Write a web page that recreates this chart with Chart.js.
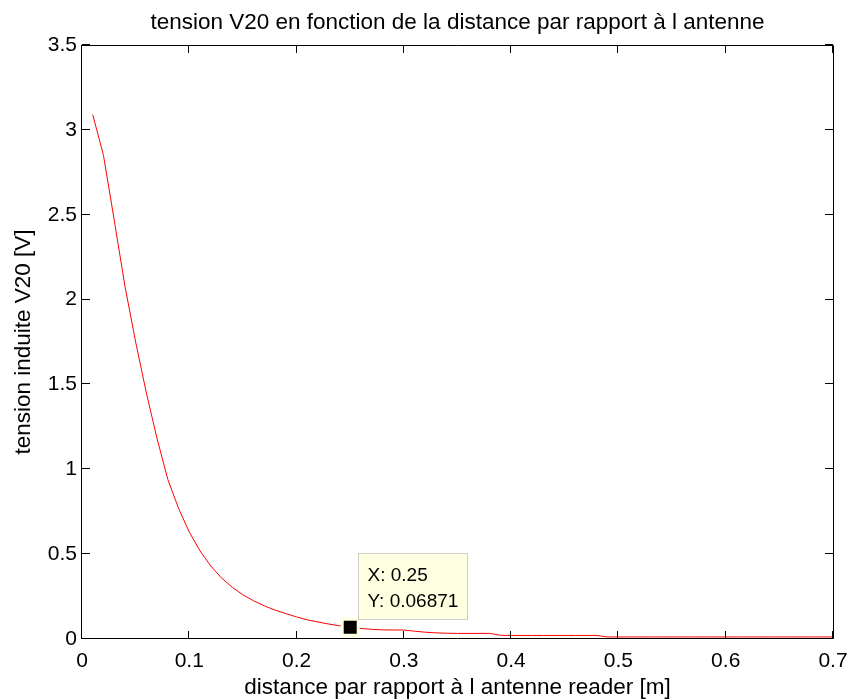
<!DOCTYPE html>
<html>
<head>
<meta charset="utf-8">
<title>tension V20</title>
<script src="https://cdn.jsdelivr.net/npm/chart.js@4.4.1/dist/chart.umd.min.js"></script>
<style>
  html, body { margin: 0; padding: 0; background: #fff; }
  #wrap { width: 848px; height: 699px; position: relative; }
</style>
</head>
<body>
<div id="wrap"><canvas id="chartV20"></canvas></div>
<script>
// distance [m]
const distances = [
  0.01, 0.02, 0.03, 0.04, 0.05, 0.06, 0.07, 0.08, 0.09, 0.10,
  0.11, 0.12, 0.13, 0.14, 0.15, 0.16, 0.17, 0.18, 0.19, 0.20,
  0.21, 0.22, 0.23, 0.24, 0.25, 0.26, 0.27, 0.28, 0.29, 0.30,
  0.31, 0.32, 0.33, 0.34, 0.35, 0.36, 0.37, 0.38, 0.39, 0.40,
  0.41, 0.42, 0.43, 0.44, 0.45, 0.46, 0.47, 0.48, 0.49, 0.50,
  0.51, 0.52, 0.53, 0.54, 0.55, 0.56, 0.57, 0.58, 0.59, 0.60,
  0.61, 0.62, 0.63, 0.64, 0.65, 0.66, 0.67, 0.68, 0.69, 0.70
];
// tension induite V20 [V]
const voltages = [
  3.09, 2.85, 2.47, 2.08, 1.75, 1.45, 1.18, 0.94, 0.77, 0.63,
  0.52, 0.43, 0.36, 0.305, 0.26, 0.225, 0.195, 0.17, 0.15, 0.13,
  0.113, 0.10, 0.088, 0.078, 0.06871, 0.062, 0.057, 0.054, 0.053, 0.053,
  0.046, 0.040, 0.036, 0.034, 0.033, 0.033, 0.033, 0.033, 0.022, 0.021,
  0.021, 0.021, 0.021, 0.021, 0.021, 0.021, 0.021, 0.021, 0.012, 0.012,
  0.012, 0.012, 0.012, 0.012, 0.012, 0.012, 0.012, 0.012, 0.012, 0.012,
  0.012, 0.012, 0.012, 0.012, 0.012, 0.012, 0.012, 0.012, 0.012, 0.012
];

const xTicks = [0, 0.1, 0.2, 0.3, 0.4, 0.5, 0.6, 0.7];
const yTicks = [0, 0.5, 1, 1.5, 2, 2.5, 3, 3.5];

// data tip (curseur matlab)
const tipX = 0.25;
const tipY = 0.06871;
const tipLines = ["X: 0.25", "Y: 0.06871"];

const FONT = "'Liberation Sans', Arial, Helvetica, sans-serif";
Chart.defaults.font.family = FONT;
Chart.defaults.color = "#000";

const el = (id) => document.getElementById(id);

// petits traits de graduation vers l'interieur, sur les 4 cotes + cadre
const boxTicks = {
  id: "boxTicks",
  afterDraw(chart) {
    const { ctx, chartArea: a, scales } = chart;
    const len = 8;
    ctx.save();
    ctx.strokeStyle = "#000";
    ctx.lineWidth = 1;
    ctx.beginPath();
    ctx.rect(Math.round(a.left) - 0.5, Math.round(a.top) + 0.5,
             Math.round(a.right) - Math.round(a.left) + 1, Math.round(a.bottom) - Math.round(a.top) - 1);
    xTicks.forEach((v) => {
      const x = Math.round(scales.x.getPixelForValue(v)) - 0.5;
      ctx.moveTo(x, a.bottom); ctx.lineTo(x, a.bottom - len);
      ctx.moveTo(x, a.top); ctx.lineTo(x, a.top + len);
    });
    yTicks.forEach((v) => {
      const y = Math.round(scales.y.getPixelForValue(v)) - 0.5;
      ctx.moveTo(a.left, y); ctx.lineTo(a.left + len, y);
      ctx.moveTo(a.right, y); ctx.lineTo(a.right - len, y);
    });
    ctx.stroke();
    ctx.restore();
  }
};

const dataTip = {
  id: "dataTip",
  afterDraw(chart) {
    const { ctx, scales } = chart;
    const px = scales.x.getPixelForValue(tipX);
    const py = scales.y.getPixelForValue(tipY);
    const left = Math.round(px + 8) + 0.5;
    const top = Math.round(py - 74) + 0.5;
    const w = 109, h = 66;
    ctx.save();
    ctx.fillStyle = "#ffffe1";
    ctx.strokeStyle = "#cfcfc4";
    ctx.lineWidth = 1;
    ctx.fillRect(left, top, w, h);
    ctx.strokeRect(left, top, w, h);
    ctx.fillStyle = "#000";
    ctx.font = "19px " + FONT;
    ctx.textBaseline = "alphabetic";
    ctx.fillText(tipLines[0], left + 9, top + 27);
    ctx.fillText(tipLines[1], left + 9, top + 53);
    ctx.restore();
  }
};

const chart = new Chart(el("chartV20").getContext("2d"), {
  type: "line",
  data: {
    datasets: [
      {
        label: "V20",
        data: distances.map((d, i) => ({ x: d, y: voltages[i] })),
        borderColor: "#ff0000",
        borderWidth: 1,
        pointRadius: 0,
        tension: 0,
        fill: false,
        order: 2
      },
      {
        label: "tip",
        data: [{ x: tipX, y: tipY }],
        showLine: false,
        pointStyle: "rect",
        pointRadius: 11.3,
        pointBackgroundColor: "#000",
        pointBorderColor: "#ffffe1",
        pointBorderWidth: 3,
        order: 1
      }
    ]
  },
  options: {
    responsive: true,
    maintainAspectRatio: false,
    animation: false,
    events: [],
    layout: { padding: { left: 0, right: 15, top: 0, bottom: 0 } },
    plugins: {
      legend: { display: false },
      tooltip: { enabled: false },
      title: {
        display: true,
        fullSize: false,
        text: "tension V20 en fonction de la distance par rapport à l antenne",
        color: "#000",
        font: { size: 22.5, weight: "normal" },
        padding: { top: 9, bottom: 9 }
      }
    },
    scales: {
      x: {
        type: "linear",
        min: 0,
        max: 0.7,
        afterFit: (s) => { s.height = 60; s.paddingLeft = 0; s.paddingRight = 0; },
        afterBuildTicks: (s) => { s.ticks = xTicks.map((v) => ({ value: v })); },
        grid: { display: false, drawTicks: false },
        border: { display: false },
        ticks: { font: { size: 21 }, color: "#000", padding: 10, autoSkip: false, maxRotation: 0,
                  callback: (v) => String(+v.toFixed(2)) },
        title: { display: true, text: "distance par rapport à l antenne reader [m]",
                 font: { size: 22.5 }, color: "#000", padding: { top: 0, bottom: -2 } }
      },
      y: {
        type: "linear",
        min: 0,
        max: 3.5,
        afterFit: (s) => { s.width = 82; s.paddingTop = 0; s.paddingBottom = 0; },
        afterBuildTicks: (s) => { s.ticks = yTicks.map((v) => ({ value: v })); },
        grid: { display: false, drawTicks: false },
        border: { display: false },
        ticks: { font: { size: 21 }, color: "#000", padding: 5, autoSkip: false,
                 callback: (v) => String(+v.toFixed(2)) },
        title: { display: true, text: "tension induite V20 [V]",
                 font: { size: 22.5 }, color: "#000", padding: { top: 10, bottom: 0 } }
      }
    }
  },
  plugins: [boxTicks, dataTip]
});
</script>
</body>
</html>
